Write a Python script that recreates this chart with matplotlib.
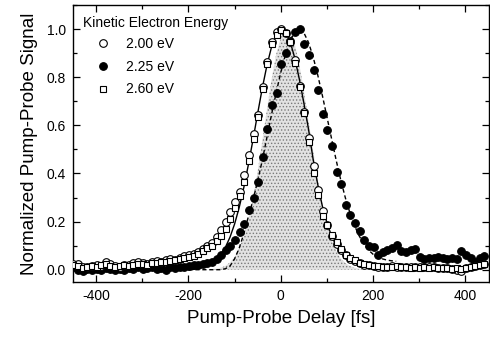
import matplotlib
matplotlib.use("Agg")
import matplotlib.pyplot as plt
from matplotlib.ticker import MultipleLocator

plt.rcParams["font.family"] = ["Liberation Sans", "DejaVu Sans"]
plt.rcParams["axes.unicode_minus"] = False
plt.rcParams["hatch.linewidth"] = 0.6

# delay grid of the measured points [fs]
delay = [-449, -439, -429, -419, -409, -399, -389, -379, -369, -359,
         -349, -339, -329, -319, -309, -299, -289, -279, -269, -259,
         -249, -239, -229, -219, -209, -199, -189, -179, -169, -159,
         -149, -139, -129, -119, -109, -99, -89, -79, -69, -59,
         -49, -39, -29, -19, -9, 1, 11, 21, 31, 41,
         51, 61, 71, 81, 91, 101, 111, 121, 131, 141,
         151, 161, 171, 181, 191, 201, 211, 221, 231, 241,
         251, 261, 271, 281, 291, 301, 311, 321, 331, 341,
         351, 361, 371, 381, 391, 401, 411, 421, 431, 441]

sig_200 = [0.022, 0.025, 0.012, 0.010, 0.015, 0.020, 0.014, 0.032, 0.022, 0.016,
           0.012, 0.020, 0.018, 0.026, 0.034, 0.026, 0.024, 0.030, 0.036, 0.030,
           0.040, 0.046, 0.042, 0.050, 0.056, 0.060, 0.066, 0.074, 0.085, 0.098,
           0.112, 0.135, 0.165, 0.200, 0.238, 0.282, 0.325, 0.395, 0.475, 0.565,
           0.645, 0.760, 0.862, 0.945, 0.988, 1.000, 0.985, 0.948, 0.870, 0.765,
           0.655, 0.548, 0.432, 0.330, 0.245, 0.185, 0.140, 0.108, 0.082, 0.060,
           0.046, 0.036, 0.027, 0.021, 0.018, 0.015, 0.013, 0.011, 0.010, 0.014,
           0.012, 0.010, 0.013, 0.011, 0.012, 0.010, 0.012, 0.010, 0.011, 0.009,
           0.008, 0.006, 0.004, 0.000, -0.004, 0.006, 0.010, 0.016, 0.020, 0.024]

sig_225 = [0.010, 0.000, -0.004, 0.002, -0.002, 0.004, 0.000, 0.006, 0.002, -0.003,
           0.004, 0.000, 0.005, 0.002, 0.010, 0.004, 0.006, 0.012, 0.004, 0.008,
           0.000, 0.012, 0.008, 0.010, 0.012, 0.016, 0.020, 0.018, 0.022, 0.026,
           0.034, 0.045, 0.060, 0.080, 0.100, 0.125, 0.158, 0.192, 0.248, 0.298,
           0.365, 0.470, 0.585, 0.685, 0.735, 0.855, 0.900, 0.952, 0.986, 1.000,
           0.940, 0.893, 0.830, 0.748, 0.648, 0.582, 0.516, 0.405, 0.357, 0.268,
           0.228, 0.193, 0.160, 0.122, 0.100, 0.094, 0.060, 0.072, 0.080, 0.092,
           0.104, 0.076, 0.073, 0.080, 0.087, 0.052, 0.045, 0.050, 0.048, 0.052,
           0.048, 0.045, 0.050, 0.045, 0.077, 0.062, 0.050, 0.032, 0.050, 0.058]

sig_260 = [0.020, 0.015, 0.008, 0.012, 0.016, 0.010, 0.018, 0.022, 0.016, 0.012,
           0.014, 0.018, 0.015, 0.020, 0.024, 0.022, 0.020, 0.026, 0.028, 0.032,
           0.034, 0.038, 0.040, 0.044, 0.048, 0.052, 0.058, 0.066, 0.076, 0.090,
           0.100, 0.118, 0.140, 0.170, 0.210, 0.255, 0.305, 0.365, 0.450, 0.545,
           0.635, 0.750, 0.855, 0.940, 0.975, 0.998, 0.983, 0.945, 0.860, 0.760,
           0.650, 0.530, 0.400, 0.310, 0.225, 0.185, 0.145, 0.115, 0.085, 0.060,
           0.048, 0.040, 0.028, 0.022, 0.018, 0.016, 0.014, 0.012, 0.010, 0.012,
           0.014, 0.010, 0.012, 0.008, 0.010, 0.009, 0.011, 0.008, 0.010, 0.009,
           0.008, 0.006, 0.003, 0.006, 0.002, 0.008, 0.012, 0.014, 0.018, 0.022]

# fitted curves
fit_x = [-200, -190, -180, -170, -160, -150, -140, -130, -120, -110,
         -100, -90, -80, -70, -60, -50, -40, -30, -20, -10,
         0, 10, 20, 30, 40, 50, 60, 70, 80, 90,
         100, 110, 120, 130, 140, 150, 160, 170, 180, 190,
         200, 210, 220, 230, 240, 250]

fit_open = [0.000, 0.001, 0.005, 0.009, 0.015, 0.025, 0.040, 0.062, 0.093, 0.135,
            0.190, 0.259, 0.342, 0.438, 0.542, 0.650, 0.755, 0.849, 0.926, 0.977,
            0.999, 0.990, 0.950, 0.882, 0.794, 0.693, 0.585, 0.460, 0.355, 0.265,
            0.195, 0.140, 0.100, 0.070, 0.050, 0.035, 0.025, 0.018, 0.014, 0.012,
            0.011, 0.010, 0.010, 0.010, 0.010, 0.010]

fit_filled = [0.000, 0.000, 0.000, 0.000, 0.000, 0.000, 0.000, 0.000, 0.004, 0.015,
              0.045, 0.090, 0.150, 0.222, 0.290, 0.370, 0.455, 0.550, 0.645, 0.735,
              0.820, 0.893, 0.950, 0.986, 1.000, 0.985, 0.945, 0.885, 0.810, 0.725,
              0.635, 0.545, 0.455, 0.372, 0.298, 0.235, 0.182, 0.140, 0.107, 0.082,
              0.064, 0.052, 0.045, 0.040, 0.037, 0.035]

# pump-probe cross correlation (shaded)
xc_x = [-150, -140, -130, -120, -110, -100, -90, -80, -70, -60,
        -50, -40, -30, -20, -10, 0, 10, 20, 30, 40,
        50, 60, 70, 80, 90, 100, 110, 120, 130, 140,
        150, 160, 170, 180]
xc_y = [0.002, 0.004, 0.008, 0.016, 0.030, 0.052, 0.088, 0.140, 0.210, 0.300,
        0.410, 0.535, 0.665, 0.790, 0.895, 0.965, 0.998, 0.990, 0.940, 0.855,
        0.745, 0.620, 0.495, 0.375, 0.272, 0.188, 0.124, 0.078, 0.047, 0.027,
        0.015, 0.008, 0.004, 0.002]

labels = ["2.00 eV", "2.25 eV", "2.60 eV"]

fig = plt.figure(figsize=(4.9, 3.37), dpi=100)
ax = fig.add_axes([0.149, 0.164, 0.848, 0.821])

ax.fill_between(xc_x, 0, xc_y, facecolor="#e2e2e2", edgecolor="#7a7a7a",
                hatch=".....", linewidth=0, zorder=1)

ax.plot(fit_x, fit_open, color="black", lw=1.0, zorder=2)
ax.plot(fit_x, fit_filled, color="black", lw=1.0, ls=(0, (3, 2)), zorder=2)

ms = 5.5
h225, = ax.plot(delay, sig_225, "o", ms=ms, mfc="black", mec="black",
                mew=0.8, zorder=3)
h200, = ax.plot(delay, sig_200, "o", ms=ms, mfc="white", mec="black",
                mew=0.8, zorder=4)
h260, = ax.plot(delay, sig_260, "s", ms=ms - 0.5, mfc="white", mec="black",
                mew=0.8, zorder=5)

ax.set_xlim(-450, 450)
ax.set_ylim(-0.05, 1.1)
ax.xaxis.set_major_locator(MultipleLocator(200))
ax.xaxis.set_minor_locator(MultipleLocator(100))
ax.yaxis.set_major_locator(MultipleLocator(0.2))
ax.yaxis.set_minor_locator(MultipleLocator(0.1))
ax.tick_params(which="both", direction="in", top=True, right=True,
               labelsize=10, width=0.9, pad=5)
ax.tick_params(which="major", length=5)
ax.tick_params(which="minor", length=3)
for s in ax.spines.values():
    s.set_linewidth(1.0)

ax.set_xlabel("Pump-Probe Delay [fs]", fontsize=13.5, labelpad=5)
ax.set_ylabel("Normalized Pump-Probe Signal", fontsize=13.5, labelpad=6)

ax.text(0.024, 0.936, "Kinetic Electron Energy", transform=ax.transAxes,
        fontsize=10, va="center", ha="left")
ax.legend([h200, h225, h260], labels, loc="upper left",
          bbox_to_anchor=(0.055, 0.884), frameon=False, fontsize=10,
          handlelength=1.0, handletextpad=1.2, labelspacing=0.62,
          borderpad=0, borderaxespad=0)

fig.savefig("out.png", dpi=100)
